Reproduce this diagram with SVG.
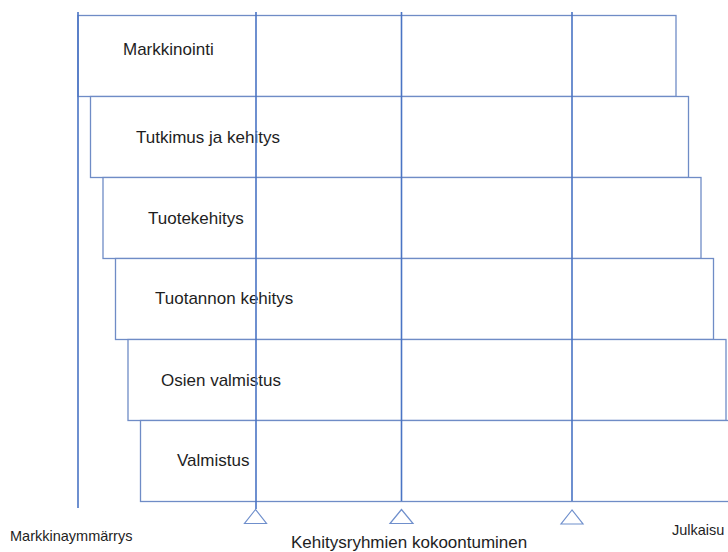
<svg xmlns="http://www.w3.org/2000/svg" width="728" height="552" viewBox="0 0 728 552">
  <style>
    .box { fill: #ffffff; stroke: #6f8cc6; stroke-width: 1.3; }
    .axis { stroke: #4a74c4; stroke-width: 1.6; fill: none; }
    .tri { fill: #ffffff; stroke: #6f8fcc; stroke-width: 1.2; }
    .lbl { font-family: "Liberation Sans", Arial, sans-serif; font-size: 17px; fill: #1e1e1e; }
    .small { font-family: "Liberation Sans", Arial, sans-serif; font-size: 14.5px; fill: #1e1e1e; }
  </style>

  <rect width="728" height="552" fill="#ffffff"/>

  <!-- staggered phase bars -->
  <g id="markkinointi">
    <rect class="box" x="78" y="15.5" width="598" height="81"/>
    <text class="lbl" x="123" y="55">Markkinointi</text>
  </g>
  <g id="tutkimus-ja-kehitys">
    <rect class="box" x="90.5" y="96.5" width="598" height="81"/>
    <text class="lbl" x="136" y="143">Tutkimus ja kehitys</text>
  </g>
  <g id="tuotekehitys">
    <rect class="box" x="103" y="177.5" width="598" height="81"/>
    <text class="lbl" x="148" y="224">Tuotekehitys</text>
  </g>
  <g id="tuotannon-kehitys">
    <rect class="box" x="115.5" y="258.5" width="598" height="81"/>
    <text class="lbl" x="155" y="304">Tuotannon kehitys</text>
  </g>
  <g id="osien-valmistus">
    <rect class="box" x="128" y="339.5" width="598" height="81"/>
    <text class="lbl" x="161" y="386">Osien valmistus</text>
  </g>
  <g id="valmistus">
    <rect class="box" x="140.5" y="420.5" width="598" height="81"/>
    <text class="lbl" x="177" y="466">Valmistus</text>
  </g>

  <!-- timeline markers -->
  <g id="connectors">
    <line class="axis" x1="78" y1="12" x2="78" y2="508"/>
    <line class="axis" x1="256" y1="12" x2="256" y2="509"/>
    <line class="axis" x1="401.5" y1="12" x2="401.5" y2="501"/>
    <line class="axis" x1="572" y1="12" x2="572" y2="501"/>
    <polygon class="tri" points="255.5,509.5 244.5,523.5 266.5,523.5"/>
    <polygon class="tri" points="401.5,509.5 390,523.5 413,523.5"/>
    <polygon class="tri" points="572,510 561,524 583,524"/>
  </g>

  <g id="labels">
    <text class="small" x="10" y="541">Markkinaymmärrys</text>
    <text class="lbl" x="291" y="547.5">Kehitysryhmien kokoontuminen</text>
    <text class="small" x="672" y="535">Julkaisu</text>
  </g>
</svg>
